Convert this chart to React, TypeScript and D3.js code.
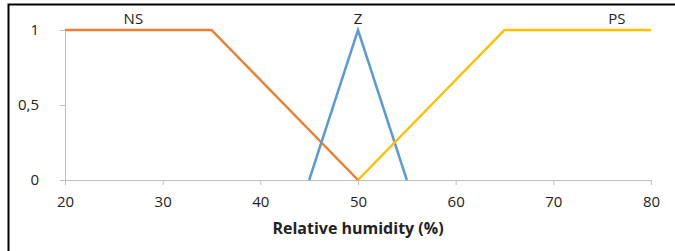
import React, { useEffect, useRef } from 'react';
import * as d3 from 'd3';

// membership functions (humidity %, degree)
const nsPoints: [number, number][] = [[20, 1], [35, 1], [50, 0]];
const zPoints: [number, number][] = [[45, 0], [50, 1], [55, 0]];
const psPoints: [number, number][] = [[50, 0], [65, 1], [80, 1]];

const seriesNames = ['NS', 'Z', 'PS'];
const seriesColors = ['#ED7D31', '#5B9BD5', '#FFC000'];
const labelX = [27, 50, 76.5];

const xTicks = [20, 30, 40, 50, 60, 70, 80];
const yTicks = [0, 0.5, 1];

export default function App() {
  const svgRef = useRef<SVGSVGElement>(null);

  useEffect(() => {
    const svg = d3.select(svgRef.current);
    svg.selectAll('*').remove();

    const width = 675;
    const height = 251;
    const margin = { top: 30, right: 24, bottom: 71, left: 65 };

    svg.attr('width', width).attr('height', height);

    svg.append('rect')
      .attr('width', width).attr('height', height).attr('fill', 'white');

    // frame (top and left edges only visible)
    svg.append('path')
      .attr('d', `M8.5,${height} V4.5 H${width}`)
      .attr('fill', 'none')
      .attr('stroke', '#000')
      .attr('stroke-width', 2);

    const x = d3.scaleLinear().domain([20, 80]).range([margin.left, width - margin.right]);
    const y = d3.scaleLinear().domain([0, 1]).range([height - margin.bottom, margin.top]);

    const font = '"Open Sans", "Noto Sans", sans-serif';

    // x axis
    const xAxis = svg.append('g')
      .attr('transform', `translate(0,${y(0)})`)
      .call(d3.axisBottom(x).tickValues(xTicks).tickSize(5).tickPadding(11));
    xAxis.select('.domain').attr('stroke', '#BFBFBF');
    xAxis.selectAll('.tick line').attr('stroke', '#BFBFBF');
    xAxis.selectAll('.tick text')
      .attr('font-family', font).attr('font-size', 15).attr('fill', '#222');

    // y axis
    const yAxis = svg.append('g')
      .attr('transform', `translate(${margin.left},0)`)
      .call(d3.axisLeft(y).tickValues(yTicks).tickSize(5).tickPadding(21)
        .tickFormat(d => (d as number === 0.5 ? '0,5' : String(d))));
    yAxis.select('.domain').attr('stroke', '#BFBFBF');
    yAxis.selectAll('.tick line').attr('stroke', '#BFBFBF');
    yAxis.selectAll('.tick text')
      .attr('font-family', font).attr('font-size', 15).attr('fill', '#222');

    const line = d3.line<[number, number]>().x(d => x(d[0])).y(d => y(d[1]));

    [nsPoints, zPoints, psPoints].forEach((pts, i) => {
      svg.append('path')
        .datum(pts)
        .attr('d', line)
        .attr('fill', 'none')
        .attr('stroke', seriesColors[i])
        .attr('stroke-width', 2.5);

      svg.append('text')
        .attr('x', x(labelX[i]))
        .attr('y', 24)
        .attr('text-anchor', 'middle')
        .attr('font-family', font)
        .attr('font-size', 15)
        .attr('fill', '#222')
        .text(seriesNames[i]);
    });

    svg.append('text')
      .attr('x', x(50))
      .attr('y', 234)
      .attr('text-anchor', 'middle')
      .attr('font-family', font)
      .attr('font-size', 16)
      .attr('font-weight', 'bold')
      .attr('fill', '#222')
      .text('Relative humidity (%)');
  }, []);

  return (
    <div style={{ position: 'absolute', left: 0, top: 0 }}>
      <svg ref={svgRef} style={{ display: 'block' }}></svg>
    </div>
  );
}
